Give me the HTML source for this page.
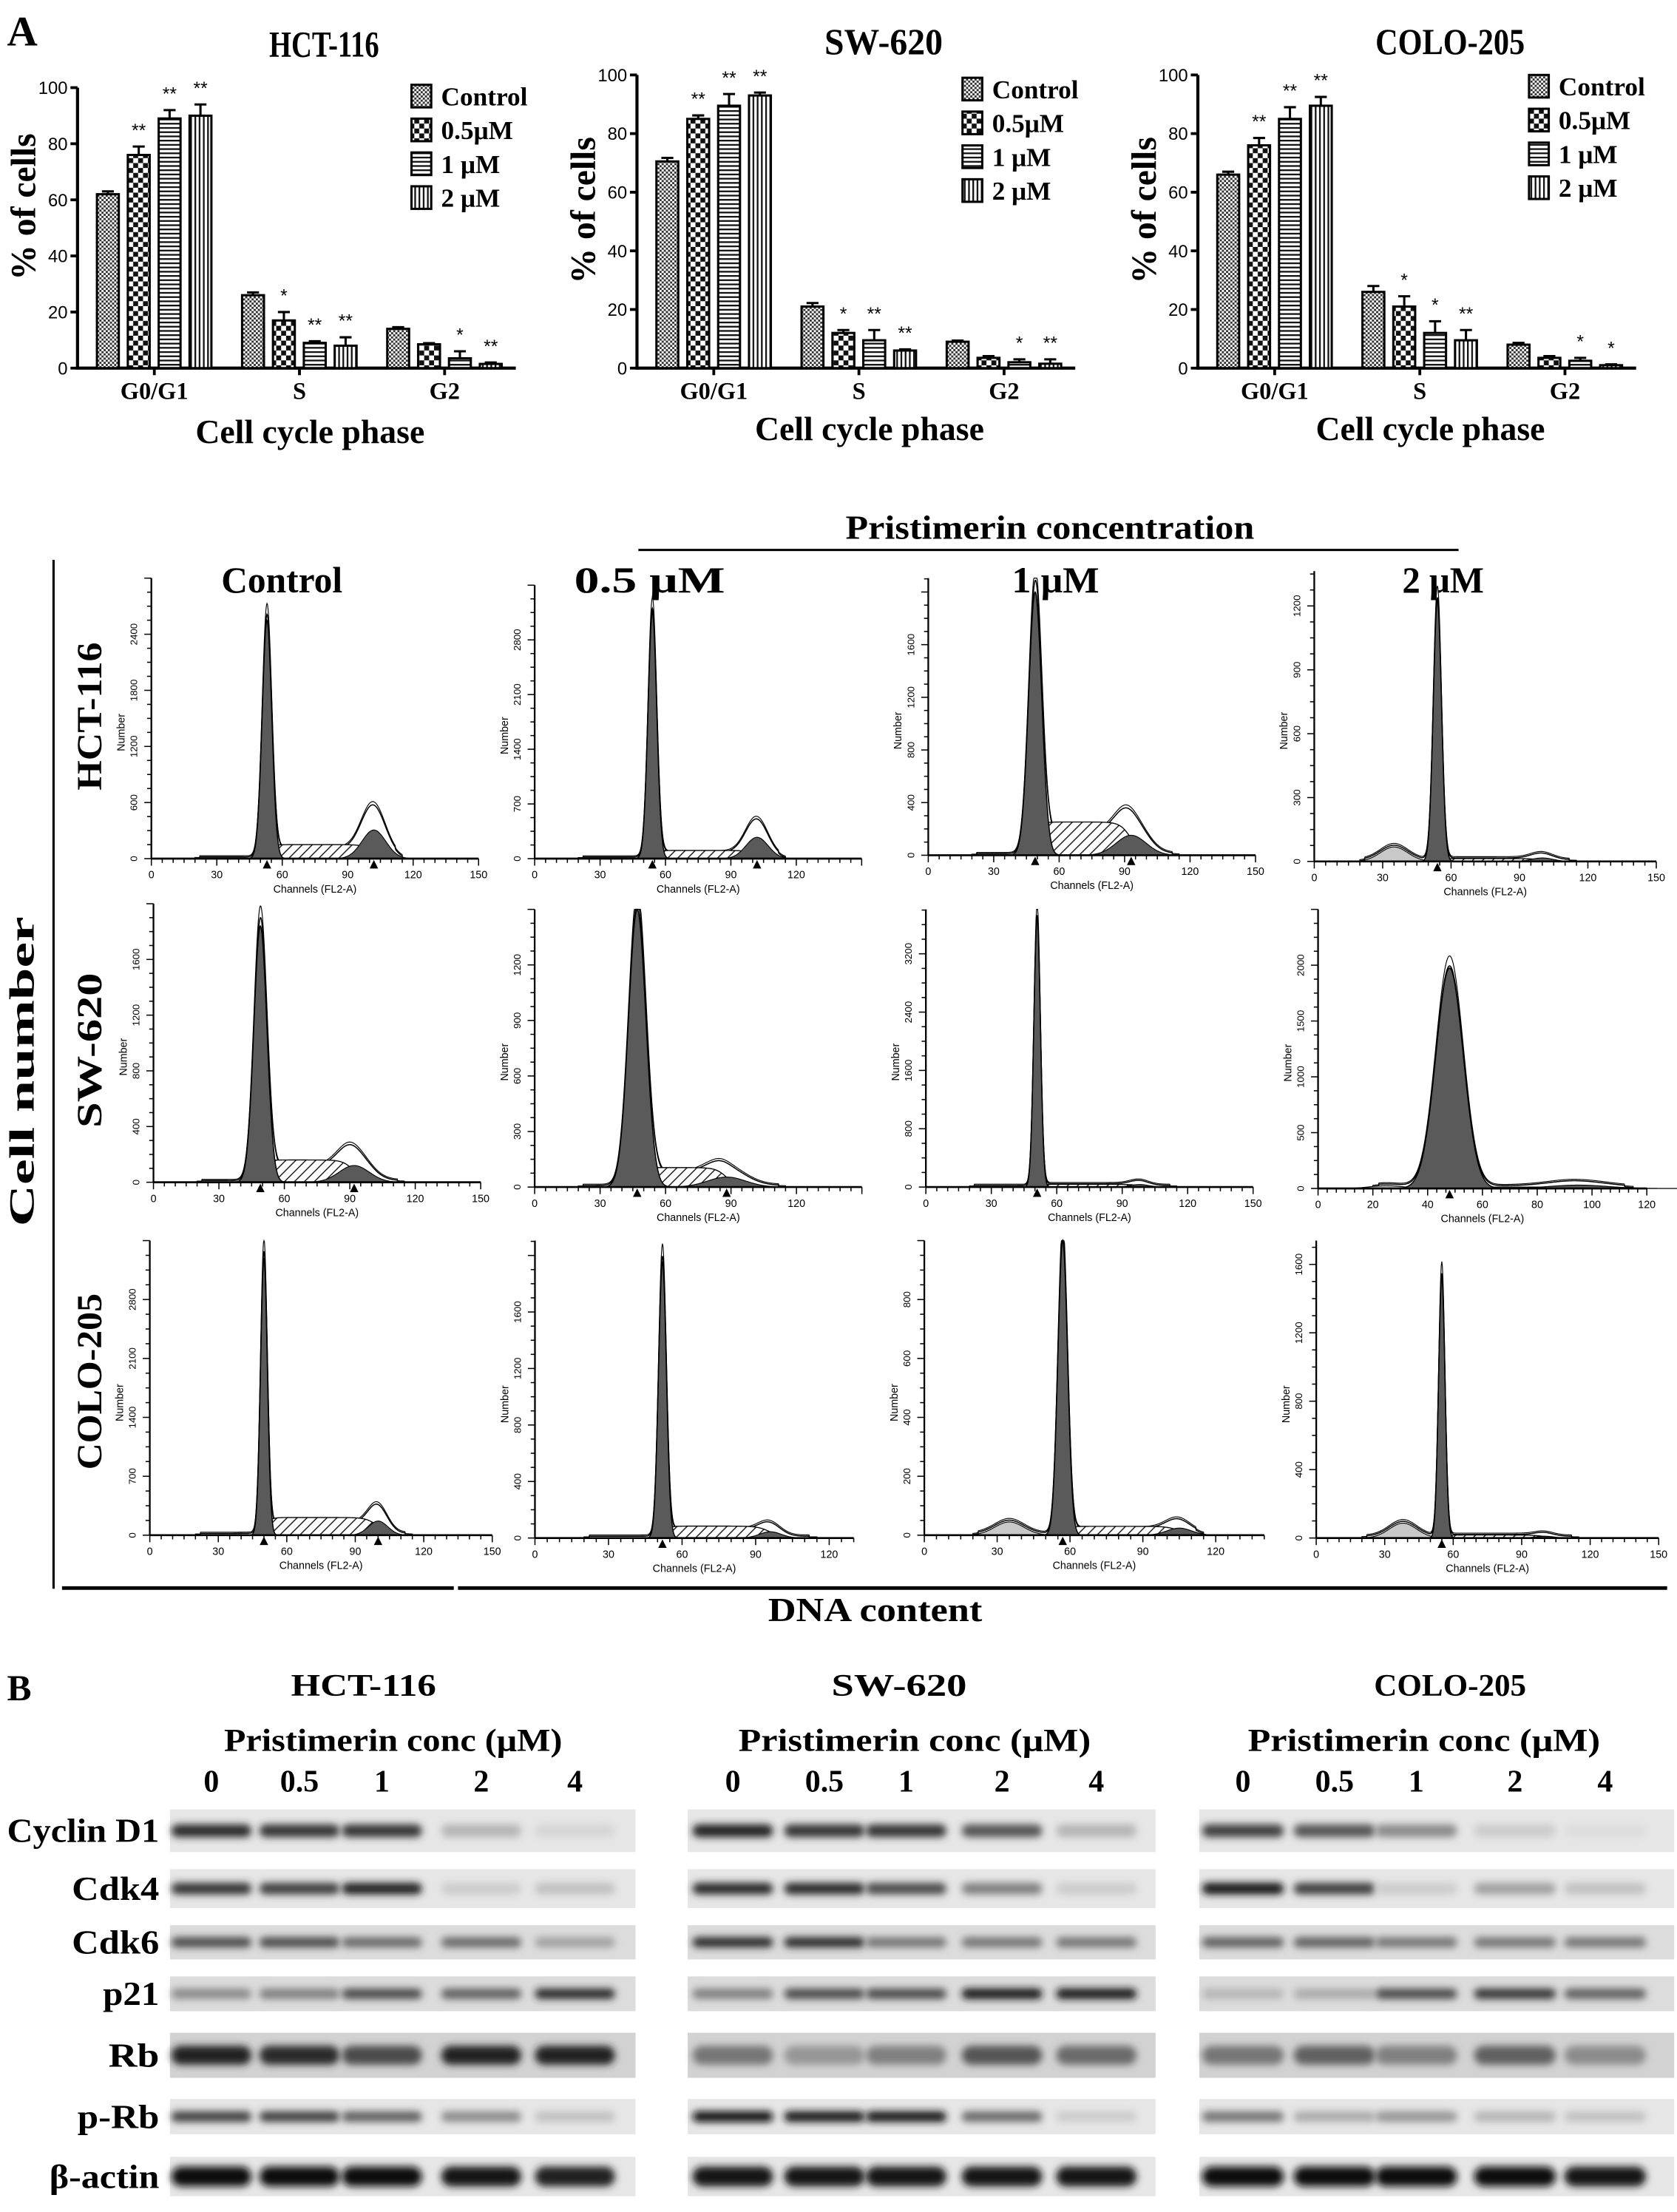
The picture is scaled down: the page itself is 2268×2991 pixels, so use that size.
<!DOCTYPE html>
<html><head><meta charset="utf-8"><style>
html,body{margin:0;padding:0;background:#fff}
svg{display:block}
text{font-family:"Liberation Serif",serif;font-weight:bold;fill:#000}
.sans{font-family:"Liberation Sans",sans-serif;font-weight:normal}
</style></head><body>
<svg id="fig" xmlns="http://www.w3.org/2000/svg" width="2268" height="2991" viewBox="0 0 1190 1569">
<defs>
<pattern id="pCtrl" width="3" height="3" patternUnits="userSpaceOnUse"><rect width="3" height="3" fill="#fff"/><rect width="1.5" height="1.5" fill="#333"/><rect x="1.5" y="1.5" width="1.5" height="1.5" fill="#333"/></pattern>
<pattern id="pHalf" width="7" height="7" patternUnits="userSpaceOnUse"><rect width="7" height="7" fill="#fff"/><rect width="3.5" height="3.5" fill="#111"/><rect x="3.5" y="3.5" width="3.5" height="3.5" fill="#111"/></pattern>
<pattern id="pOne" width="4" height="3" patternUnits="userSpaceOnUse"><rect width="4" height="3" fill="#fff"/><rect width="4" height="1.2" fill="#111"/></pattern>
<pattern id="pTwo" width="3" height="4" patternUnits="userSpaceOnUse"><rect width="3" height="4" fill="#fff"/><rect width="1.2" height="4" fill="#111"/></pattern>
<pattern id="pHatch" width="5" height="5" patternUnits="userSpaceOnUse" patternTransform="rotate(45)"><rect width="5" height="5" fill="#fff"/><rect width="0.8" height="5" fill="#222"/></pattern>
<filter id="blur" x="-30%" y="-100%" width="160%" height="300%"><feGaussianBlur stdDeviation="2.6"/></filter>
</defs>
<g id="root"></g>
</svg>
<script>
// ---------- Panel A bar chart data ----------
const barCellLines = ['HCT-116','SW-620','COLO-205'];
const barPhases = ['G0/G1','S','G2'];
const barSeries = ['Control','0.5\u03bcM','1 \u03bcM','2 \u03bcM'];
const barYTicks = [0,20,40,60,80,100];
const hctValues = [[62,76,89,90],[26,17,9,8],[14,8.5,3.5,1.5]];
const hctErrors = [[1,3,3,4],[1,3,0.6,3],[0.6,0.4,2.5,0.5]];
const hctStars = [['','**','**','**'],['','*','**','**'],['','','*','**']];
const swValues = [[70.5,85,89.5,93],[21,12,9.5,6],[9,3.5,2,1.5]];
const swErrors = [[1.2,1.2,4,1],[1.2,1,3.5,0.4],[0.4,0.6,1,1.5]];
const swStars = [['','**','**','**'],['','*','**','**'],['','','*','**']];
const coloValues = [[66,76,85,89.5],[26,21,12,9.5],[8,3.5,2.5,1]];
const coloErrors = [[1,2.5,4,3],[2,3.5,4,3.5],[0.6,0.6,1,0.3]];
const coloStars = [['','**','**','**'],['','*','*','**'],['','','*','*']];

// ---------- Flow cytometry histogram data (12 panels, row-major) ----------
const histRows = ['HCT-116','SW-620','COLO-205'];
const histCols = ['Control','0.5 \u03bcM','1 \u03bcM','2 \u03bcM'];
const histG1Pos   = [53,54,49,54, 49,47,51,48, 50,52,57,55];
const histG1Peak  = [0.85,0.9,0.95,0.9, 0.92,1.0,0.97,0.79, 0.94,0.93,1.0,0.88];
const histG1Sigma = [2.2,2.0,3.0,1.8, 3.0,4.0,1.5,5.0, 1.5,1.6,2.0,1.4];
const histG2Pos   = [102,102,93,100, 92,88,98,95, 100,96,105,100];
const histG2Peak  = [0.17,0.13,0.12,0.02, 0.1,0.06,0.015,0.02, 0.08,0.035,0.04,0.01];
const histSLevel  = [0.05,0.03,0.12,0.01, 0.08,0.07,0.01,0.005, 0.06,0.04,0.03,0.01];
const histSubPos  = [0,0,0,35, 0,0,0,25, 0,0,35,38];
const histSubPeak = [0,0,0,0.05, 0,0,0,0.01, 0,0,0.045,0.05];
const histYTicks = [[0,600,1200,1800,2400],[0,700,1400,2100,2800],[0,400,800,1200,1600],[0,300,600,900,1200],
  [0,400,800,1200,1600],[0,300,600,900,1200],[0,800,1600,2400,3200],[0,500,1000,1500,2000],
  [0,700,1400,2100,2800],[0,400,800,1200,1600],[0,200,400,600,800],[0,400,800,1200,1600]];
const histXTicks = [[0,30,60,90,120,150],[0,30,60,90,120],[0,30,60,90,120,150],[0,30,60,90,120,150],
  [0,30,60,90,120,150],[0,30,60,90,120],[0,30,60,90,120,150],[0,20,40,60,80,100,120],
  [0,30,60,90,120,150],[0,30,60,90,120],[0,30,60,90,120],[0,30,60,90,120,150]];
const histXMax = [150,150,150,150, 150,150,150,120, 150,130,140,150];

// ---------- Western blot data ----------
const blotProteins = ['Cyclin D1','Cdk4','Cdk6','p21','Rb','p-Rb','\u03b2-actin'];
const blotLanes = ['0','0.5','1','2','4'];
const hctBands = [[0.85,0.8,0.8,0.2,0.05],[0.8,0.75,0.9,0.1,0.15],[0.7,0.7,0.55,0.55,0.3],[0.4,0.45,0.7,0.6,0.85],[0.9,0.85,0.7,0.9,0.9],[0.75,0.75,0.6,0.4,0.15],[1,1,1,0.95,0.9]];
const swBands = [[0.9,0.8,0.8,0.65,0.2],[0.85,0.85,0.7,0.45,0.1],[0.85,0.85,0.5,0.5,0.5],[0.45,0.7,0.7,0.95,0.95],[0.5,0.35,0.45,0.65,0.55],[1,0.95,0.95,0.55,0.1],[0.95,0.95,0.95,0.95,0.95]];
const coloBands = [[0.75,0.65,0.4,0.1,0.02],[0.95,0.75,0.1,0.3,0.15],[0.6,0.6,0.5,0.5,0.5],[0.2,0.25,0.7,0.8,0.6],[0.5,0.6,0.45,0.6,0.4],[0.5,0.25,0.35,0.2,0.15],[1,1,1,1,0.95]];

const NS='http://www.w3.org/2000/svg';
const root=document.getElementById('root');
function mk(tag,attrs,name,parent){
  const el=document.createElementNS(NS,tag);
  for(const k in attrs) el.setAttribute(k,attrs[k]);
  
  
  (parent||root).appendChild(el);
  return el;
}
function txt(x,y,s,size,name,o){
  o=o||{};
  const a={x:x,y:y,'font-size':size,'text-anchor':o.anchor||'middle'};
  if(o.len){a.textLength=o.len;a.lengthAdjust='spacingAndGlyphs';}
  if(o.cls) a['class']=o.cls;
  if(o.rot!==undefined) a.transform='rotate('+o.rot+' '+x+' '+y+')';
  if(o.weight) a['font-weight']=o.weight;
  const t=mk('text',a,name,o.parent);
  t.textContent=s;
  return t;
}
function line(x1,y1,x2,y2,w,name,p){return mk('line',{x1:x1,y1:y1,x2:x2,y2:y2,stroke:'#000','stroke-width':w},name,p);}

// ================= Panel A =================
txt(5,32,'A',30,'panel-a-label',{anchor:'start'});
const barCfg=[
  {vals:hctValues,errs:hctErrors,stars:hctStars,ax:55,y100:62,tx:230,ty:40,tlen:78,leg:[292,68]},
  {vals:swValues,errs:swErrors,stars:swStars,ax:452,y100:53,tx:627,ty:38,tlen:84,leg:[683,63]},
  {vals:coloValues,errs:coloErrors,stars:coloStars,ax:850,y100:53,tx:1029,ty:38,tlen:106,leg:[1085,61]}
];
const pats=['url(#pCtrl)','url(#pHalf)','url(#pOne)','url(#pTwo)'];
barCfg.forEach((c,ci)=>{
  const g=mk('g',{},'bar-chart-'+barCellLines[ci].toLowerCase());
  const y0=261;
  const yS=v=>y0-(y0-c.y100)*v/100;
  const xB=(p,s)=>c.ax+13.8+p*103+s*21.9;
  txt(c.tx,c.ty,barCellLines[ci],26,'chart-title',{len:c.tlen,parent:g});
  line(c.ax,c.y100,c.ax,y0+1,2.2,'y-axis',g);
  line(c.ax-1,y0,c.ax+311,y0,2.2,'x-axis',g);
  barYTicks.forEach(t=>{
    line(c.ax-5,yS(t),c.ax,yS(t),2,'y-tick',g);
    txt(c.ax-7,yS(t)+4.5,String(t),12.5,'y-tick-label',{anchor:'end',cls:'sans',weight:'bold',parent:g});
  });
  barPhases.forEach((ph,pi)=>{
    const cx=c.ax+54.5+pi*103;
    line(cx,y0,cx,y0+5,2,'x-tick',g);
    txt(cx,y0+22,ph,17,'x-tick-label',{parent:g});
    barSeries.forEach((s,si)=>{
      const v=c.vals[pi][si], e=c.errs[pi][si];
      const x=xB(pi,si);
      mk('rect',{x:x,y:yS(v),width:15.5,height:y0-yS(v),fill:pats[si],stroke:'#000','stroke-width':1.6},'bar-'+ph+'-'+si,g);
      line(x+7.75,yS(v),x+7.75,yS(v+e),1.6,'error-bar',g);
      line(x+3.5,yS(v+e),x+12,yS(v+e),1.6,'error-cap',g);
      if(c.stars[pi][si]) txt(x+7.75,yS(v+e)-7,c.stars[pi][si],13,'significance-star',{cls:'sans',parent:g});
    });
  });
  txt(c.ax-30,(y0+c.y100)/2+(ci==0?-15:-8),'% of cells',25,'y-axis-title',{rot:-90,parent:g});
  txt(c.ax+165,c.ty+274,'Cell cycle phase',24,'x-axis-title',{parent:g});
  barSeries.forEach((s,si)=>{
    const ly=c.leg[1]+si*24;
    mk('rect',{x:c.leg[0],y:ly-8,width:14,height:16,fill:pats[si],stroke:'#000','stroke-width':1.6},'legend-swatch',g);
    txt(c.leg[0]+21,ly+6.5,s,18.5,'legend-entry',{anchor:'start',weight:'normal',parent:g});
  });
});

// ================= Flow cytometry =================
txt(745,382,'Pristimerin concentration',24,'group-title',{len:290});
line(453,390,1035,390,1.6,'group-line');
line(38,397,38,1127,1.6,'left-bracket-line');
line(44,1126.5,322,1126.5,2.5,'bottom-line-left');
line(325,1126.5,1183,1126.5,2.5,'bottom-line-right');
txt(621,1150,'DNA content',24,'x-group-title',{len:152});
txt(24,760,'Cell number',25,'y-group-title',{rot:-90,len:220});
const colHdr=[[200,86],[461,107],[749,62],[1024,58]];
histCols.forEach((h,i)=>txt(colHdr[i][0],420,h,26,'column-header',{len:colHdr[i][1]}));
const rowLab=[[72,508,105],[72,745,110],[72,980,125]];
histRows.forEach((h,i)=>txt(rowLab[i][0],rowLab[i][1],h,25,'row-label',{rot:-90,len:rowLab[i][2]}));

const pX0=[107.4,379.4,658.7,932.6, 108.9,379.4,657,935.3, 106.3,379.6,655.9,934];
const pPPC=[1.548,1.547,1.548,1.618, 1.548,1.548,1.548,1.944, 1.62,1.74,1.723,1.62];
const pBase=[609,609,606.6,611, 838.6,842,842,843, 1089,1091,1089,1091];
const pTop=[410,415,410,405, 641,645,645,645, 880,880,880,880];
const pTickFrac=[0.2,0.2,0.19,0.22, 0.2,0.2,0.21,0.2, 0.2,0.19,0.2,0.23];

for(let i=0;i<12;i++){
  const g=mk('g',{},'histogram-'+histRows[Math.floor(i/4)].toLowerCase()+'-'+(i%4),root);
  const x0=pX0[i], ppc=pPPC[i], base=pBase[i], top=pTop[i], H=base-top;
  const xS=c=>x0+c*ppc, yS=f=>base-f*H;
  const xm=histXMax[i];
  const gauss=(c,p,h,s)=>h*Math.exp(-0.5*((c-p)/s)*((c-p)/s));
  const sig=z=>1/(1+Math.exp(-z));
  const p1=histG1Pos[i],h1=histG1Peak[i],s1=histG1Sigma[i],p2=histG2Pos[i],h2=histG2Peak[i],s2=s1*1.8+1.5,hs=histSLevel[i];
  const S=c=>hs*sig((c-p1)/1.5)*sig((p2-c)/2.5);
  const G1=c=>gauss(c,p1,h1,s1), G2f=c=>gauss(c,p2,h2*0.6,s2), G2=c=>gauss(c,p2,h2,s2);
  const SUB=c=>histSubPos[i]?gauss(c,histSubPos[i],histSubPeak[i],6):0;
  const tot=c=>G1(c)+G2(c)+S(c)*0.6+SUB(c)+(c>22&&c<112?0.006:0);
  const tot2=c=>tot(c)*1.04+0.004;
  const curve=(f,a,b)=>{let d='M'+xS(a)+','+base;for(let c=a;c<=b;c+=0.25)d+=' L'+xS(c).toFixed(2)+','+yS(Math.min(f(c),1)).toFixed(2);return d+' L'+xS(b)+','+base+' Z';};
  mk('path',{d:curve(tot2,20,115),fill:'#fff',stroke:'#000','stroke-width':0.6},'total-histogram-outline',g);
  mk('path',{d:curve(tot,20,115),fill:'#fff',stroke:'#000','stroke-width':0.8},'total-histogram',g);
  mk('path',{d:curve(S,p1-5,p2+8),fill:'url(#pHatch)',stroke:'#000','stroke-width':0.7},'s-phase-area',g);
  if(histSubPeak[i]>0) mk('path',{d:curve(SUB,histSubPos[i]-16,histSubPos[i]+16),fill:'#c8c8c8',stroke:'#000','stroke-width':0.6},'sub-g1-area',g);
  mk('path',{d:curve(G2f,p2-4*s2,p2+4*s2),fill:'#5a5a5a',stroke:'#000','stroke-width':0.6},'g2-peak',g);
  mk('path',{d:curve(G1,p1-4*s1,p1+4*s1),fill:'#5a5a5a',stroke:'#000','stroke-width':0.8},'g1-peak',g);
  line(x0,top,x0,base,1.2,'y-axis',g);
  line(x0,base,xS(xm),base,1.4,'x-axis',g);
  const tf=pTickFrac[i];
  for(let k=0;k*tf/4<=1;k++){const yy=base-k*tf/4*H;line(x0-(k%4==0?5:3),yy,x0,yy,0.8,'y-minor-tick',g);}
  histYTicks[i].forEach((t,k)=>txt(x0-10,base-k*tf*H,String(t),7,'y-tick-label',{cls:'sans',rot:-90,parent:g}));
  txt(x0-19,top+H*0.55,'Number',7.5,'y-axis-title',{cls:'sans',rot:-90,parent:g});
  const step=histXTicks[i][1];
  for(let c=0;c<=xm;c+=step/6){line(xS(c),base,xS(c),base+(Math.abs(c/step-Math.round(c/step))<0.01?5:3),0.8,'x-minor-tick',g);}
  histXTicks[i].forEach(t=>txt(xS(t),base+14,String(t),7.5,'x-tick-label',{cls:'sans',parent:g}));
  txt(xS(xm*0.5),base+24,'Channels (FL2-A)',7.5,'x-axis-title',{cls:'sans',parent:g});
  mk('path',{d:'M'+(xS(p1)-3)+','+(base+7)+' L'+xS(p1)+','+(base+1)+' L'+(xS(p1)+3)+','+(base+7)+' Z',fill:'#000'},'g1-marker',g);
  if(histG2Peak[i]>0.05) mk('path',{d:'M'+(xS(p2)-3)+','+(base+7)+' L'+xS(p2)+','+(base+1)+' L'+(xS(p2)+3)+','+(base+7)+' Z',fill:'#000'},'g2-marker',g);
}

// ================= Panel B =================
txt(5,1206,'B',26,'panel-b-label',{anchor:'start'});
const blotTop=[1283.6,1326,1365.7,1402,1442,1489,1530];
const blotBot=[1313.8,1353.5,1390,1426.7,1474,1514,1558];
const blotCfg=[
  {bands:hctBands,x1:120.6,x2:451,lanes:[150,212.5,271,341.5,408],tx:258,tl:103,pl:240,name:'HCT-116'},
  {bands:swBands,x1:488,x2:820,lanes:[520,585,643,711,778],tx:638,tl:96,pl:250,name:'SW-620'},
  {bands:coloBands,x1:851,x2:1188,lanes:[882,947,1005,1075,1139],tx:1029,tl:108,pl:250,name:'COLO-205'}
];
const labW=[108,62,62,40,36,58,78];
blotProteins.forEach((p,ri)=>txt(113,(blotTop[ri]+blotBot[ri])/2+8,p,24,'protein-label',{anchor:'end',len:labW[ri]}));
blotCfg.forEach(b=>{
  const g=mk('g',{},'blot-'+b.name.toLowerCase());
  txt(b.tx,1203,b.name,22,'blot-title',{len:b.tl,parent:g});
  txt((b.lanes[0]+b.lanes[4])/2,1242,'Pristimerin conc (\u03bcM)',23,'blot-subtitle',{len:b.pl,parent:g});
  blotLanes.forEach((l,li)=>txt(b.lanes[li],1271,l,22,'lane-label',{parent:g}));
  blotProteins.forEach((p,ri)=>{
    const t=blotTop[ri],bt=blotBot[ri];
    const bg=(p==='Rb')?'#d2d2d2':(ri===2||ri===3)?'#dcdcdc':'#e6e6e6';
    mk('rect',{x:b.x1,y:t,width:b.x2-b.x1,height:bt-t,fill:bg},'blot-strip',g);
    b.bands[ri].forEach((d,li)=>{
      const lw=(b.x2-b.x1)/5*0.86, bh=(bt-t)*(p==='Rb'?0.42:p==='\u03b2-actin'?0.5:0.3);
      const gv=Math.round(225-d*215);
      mk('rect',{x:b.lanes[li]-lw/2,y:(t+bt)/2-bh/2,width:lw,height:bh,rx:bh/2,fill:'rgb('+gv+','+gv+','+gv+')',filter:'url(#blur)'},'band',g);
    });
  });
});
</script>
</body></html>
